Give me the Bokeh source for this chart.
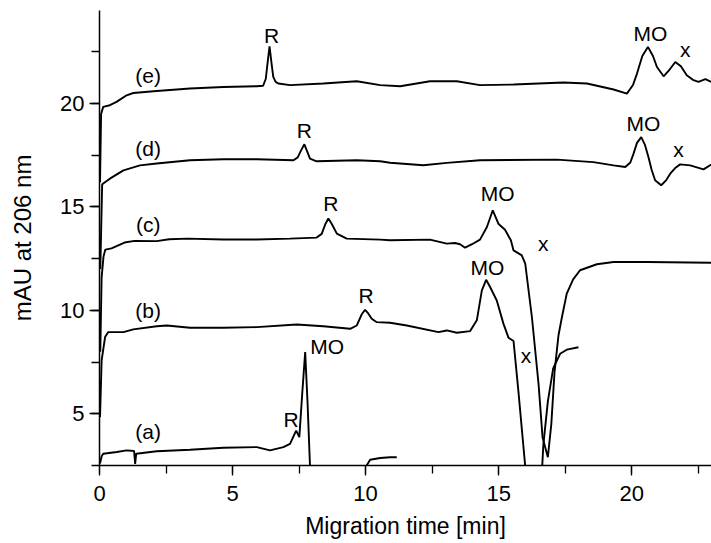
import numpy as np
from bokeh.plotting import figure
from bokeh.models import SingleIntervalTicker, Range1d, ColumnDataSource
from bokeh.embed import file_html
from bokeh.resources import INLINE
from bokeh.core.properties import value

NaN = np.nan
FONT = "Liberation Sans"

# --- data: (migration time [min], mAU) ---
trace_e = [(0.02, 16.2), (0.06, 19.5), (0.14, 19.84), (0.39, 19.92), (0.64, 20.08), (1.02, 20.4),
           (1.27, 20.51), (2.15, 20.61), (3.40, 20.73), (4.65, 20.80), (5.91, 20.84), (6.15, 20.86),
           (6.25, 21.2), (6.32, 22.0), (6.39, 22.77), (6.46, 22.0), (6.53, 21.29), (6.62, 21.05),
           (6.72, 20.97), (7.16, 20.89), (8.41, 20.97), (9.67, 21.08), (10.55, 20.89), (11.3, 20.84),
           (12.42, 21.08), (13.43, 21.08), (14.3, 20.89), (15.56, 20.92), (17.44, 21.02), (18.32, 20.97),
           (19.32, 20.68), (19.82, 20.48), (20.05, 20.9), (20.2, 21.45), (20.4, 22.3), (20.61, 22.74),
           (20.8, 22.3), (20.95, 21.77), (21.2, 21.32), (21.4, 21.6), (21.64, 22.01), (21.85, 21.8),
           (22.07, 21.37), (22.3, 21.15), (22.51, 21.05), (22.77, 21.18), (22.99, 21.05)]

trace_d = [(0.03, 12.0), (0.1, 16.1), (0.14, 16.13), (0.39, 16.37), (0.9, 16.77), (1.52, 17.01),
           (2.15, 17.10), (3.40, 17.26), (4.65, 17.31), (5.91, 17.31), (7.29, 17.26), (7.45, 17.4),
           (7.58, 17.75), (7.70, 18.03), (7.80, 17.7), (7.91, 17.34), (8.16, 17.21), (9.67, 17.26),
           (10.55, 17.21), (10.92, 17.14), (12.17, 17.02), (13.05, 17.13), (14.3, 17.26), (17.19, 17.29),
           (18.56, 17.17), (19.32, 17.01), (19.76, 16.93), (19.95, 17.15), (20.07, 17.58), (20.2, 18.1),
           (20.36, 18.38), (20.5, 18.0), (20.63, 17.42), (20.75, 16.8), (20.88, 16.29), (21.11, 16.05),
           (21.3, 16.3), (21.45, 16.61), (21.65, 16.9), (21.82, 17.06), (22.2, 17.01), (22.7, 16.82),
           (22.99, 17.05)]

trace_c = [(0.03, 8.0), (0.08, 11.6), (0.15, 12.6), (0.22, 12.94), (0.45, 13.0), (0.94, 13.28),
           (1.32, 13.36), (2.15, 13.35), (2.62, 13.44), (3.3, 13.47), (4.65, 13.43), (5.91, 13.43),
           (7.16, 13.47), (8.16, 13.52), (8.35, 13.7), (8.48, 14.15), (8.60, 14.44), (8.72, 14.2),
           (8.92, 13.71), (9.29, 13.47), (10.55, 13.42), (10.92, 13.39), (12.42, 13.42), (13.05, 13.23),
           (13.36, 13.26), (13.55, 13.2), (13.74, 13.03), (14.0, 13.2), (14.3, 13.42), (14.56, 14.03),
           (14.78, 14.84), (14.99, 14.19), (15.24, 13.90), (15.46, 13.39), (15.56, 12.90), (15.87, 12.66),
           (16.0, 12.26), (16.25, 9.68), (16.5, 6.45), (16.65, 3.87), (16.85, 2.9), (16.98, 4.5),
           (17.1, 7.0), (17.25, 8.8), (17.38, 9.68), (17.56, 10.81), (17.8, 11.5), (18.06, 11.94),
           (18.69, 12.23), (19.32, 12.34), (20.57, 12.34), (22.99, 12.30)]

trace_b = [(0.02, 4.84), (0.08, 7.58), (0.21, 8.71), (0.33, 8.95), (0.9, 8.95), (1.27, 9.08),
           (2.15, 9.23), (2.53, 9.27), (3.40, 9.16), (4.65, 9.16), (5.91, 9.19), (7.41, 9.32),
           (8.41, 9.23), (9.42, 9.11), (9.67, 9.27), (9.85, 9.8), (9.98, 10.03), (10.1, 9.85),
           (10.23, 9.60), (10.42, 9.43), (10.92, 9.40), (11.55, 9.27), (12.74, 8.95), (13.05, 9.03),
           (13.43, 8.92), (13.93, 9.0), (14.18, 9.52), (14.37, 10.97), (14.53, 11.48), (14.68, 11.13),
           (14.93, 10.48), (15.18, 9.36), (15.37, 8.68), (15.56, 8.52), (15.74, 6.13), (16.0, 2.45),
           (16.05, 1.5), (NaN, NaN), (16.6, 1.5), (16.68, 3.5), (16.85, 5.6), (17.05, 7.2),
           (17.31, 7.90), (17.56, 8.10), (18.0, 8.22)]

trace_a = [(0.02, 2.6), (0.08, 2.95), (0.14, 3.07), (0.65, 3.15), (1.02, 3.23), (1.3, 3.2),
           (1.34, 2.58), (1.38, 3.07), (2.15, 3.19), (3.4, 3.26), (4.65, 3.36), (5.91, 3.39),
           (6.41, 3.23), (6.91, 3.39), (7.16, 3.55), (7.39, 4.19), (7.51, 3.87), (7.62, 6.0),
           (7.73, 7.98), (7.82, 5.5), (7.91, 2.5), (7.93, 2.0), (NaN, NaN), (10.02, 2.0),
           (10.04, 2.5), (10.17, 2.78), (10.55, 2.86), (10.92, 2.9), (11.17, 2.9)]

traces = [trace_a, trace_b, trace_c, trace_d, trace_e]

# annotation labels
label_text = ["(e)", "(d)", "(c)", "(b)", "(a)",
              "R", "R", "R", "R", "R",
              "MO", "MO", "MO", "MO", "MO",
              "x", "x", "x", "x"]
label_x = [1.83, 1.83, 1.83, 1.83, 1.83,
           6.47, 7.70, 8.69, 10.02, 7.20,
           20.7, 20.44, 14.96, 14.58, 8.56,
           22.01, 21.76, 16.68, 16.03]
label_y = [21.38, 17.82, 14.16, 10.0, 4.15,
           23.30, 18.71, 15.16, 10.73, 4.71,
           23.39, 19.03, 15.65, 12.09, 8.26,
           22.61, 17.77, 13.23, 7.82]

x_label = "Migration time [min]"
y_label = "mAU at 206 nm"

p = figure(width=711, height=543, output_backend="svg", toolbar_location=None,
           x_range=Range1d(0, 23.0), y_range=Range1d(2.5, 24.5),
           min_border_left=99, min_border_right=0, min_border_top=10, min_border_bottom=78)
p.outline_line_color = None
p.xgrid.grid_line_color = None
p.ygrid.grid_line_color = None
p.background_fill_color = "white"

for tr in traces:
    xs = [pt[0] for pt in tr]
    ys = [pt[1] for pt in tr]
    p.line(xs, ys, line_color="black", line_width=1.9)

src = ColumnDataSource(dict(x=label_x, y=label_y, t=label_text))
p.text(x="x", y="y", text="t", source=src, text_align="center", text_baseline="middle",
       text_font=value(FONT), text_font_size="21px", text_color="black")

for ax in (p.xaxis[0], p.yaxis[0]):
    ax.ticker = SingleIntervalTicker(interval=5, num_minor_ticks=2)
    ax.axis_line_width = 1.5
    ax.axis_line_color = "black"
    ax.major_tick_line_color = "black"
    ax.minor_tick_line_color = "black"
    ax.major_tick_line_width = 1.3
    ax.minor_tick_line_width = 1.3
    ax.major_tick_in = 0
    ax.major_tick_out = 10
    ax.minor_tick_in = 0
    ax.minor_tick_out = 8
    ax.major_label_text_font = FONT
    ax.major_label_text_color = "black"
    ax.axis_label_text_font = FONT
    ax.axis_label_text_font_style = "normal"
    ax.axis_label_text_color = "black"

p.xaxis.axis_label = x_label
p.yaxis.axis_label = y_label
p.xaxis.major_label_text_font_size = "22px"
p.yaxis.major_label_text_font_size = "22px"
p.xaxis.axis_label_text_font_size = "23px"
p.yaxis.axis_label_text_font_size = "24px"
p.xaxis.major_label_standoff = 10
p.yaxis.major_label_standoff = 5
p.xaxis.axis_label_standoff = 9
p.yaxis.axis_label_standoff = 21

open("out.html", "w").write(file_html(p, INLINE))
